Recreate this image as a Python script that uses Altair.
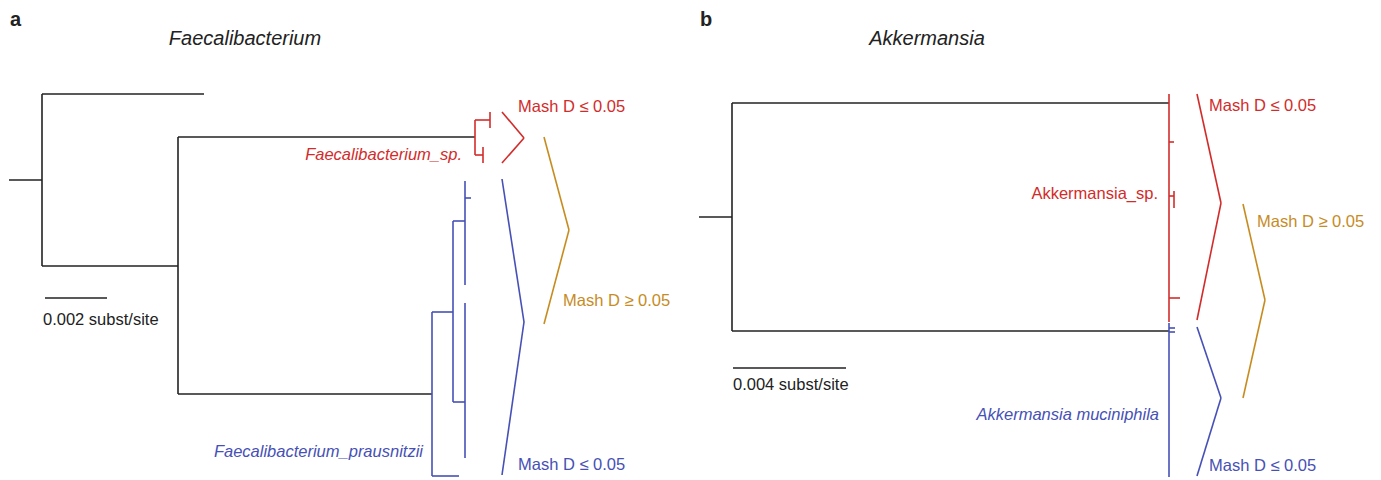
import altair as alt
import pandas as pd

# ---- colours of the groups ----
group_names = ["black", "red", "blue", "gold"]
group_colors = ["#222222", "#d22c2a", "#4650b6", "#c68c1f"]

# ---- tree branches (x1, y1, x2, y2) in figure units ----
tree_a_black = [(9, 180, 42, 180), (42, 94, 42, 266), (42, 94, 204, 94),
                (42, 266, 178, 266), (178, 137, 178, 394), (178, 137, 475, 137),
                (178, 394, 432, 394)]
tree_a_red = [(475, 120, 475, 155), (475, 120, 490, 120), (490, 112, 490, 128),
              (475, 155, 483, 155), (483, 147, 483, 163)]
tree_a_blue = [(465, 181, 465, 285), (465, 198, 471, 198), (453, 221, 465, 221),
               (453, 221, 453, 402), (453, 402, 465, 402), (465, 303, 465, 458),
               (432, 312, 453, 312), (432, 312, 432, 476), (432, 476, 459, 476)]
tree_b_black = [(699, 217, 732, 217), (732, 103, 732, 331), (732, 103, 1169, 103),
                (732, 331, 1169, 331)]
tree_b_red = [(1169, 94, 1169, 322), (1169, 142, 1174, 142), (1169, 196, 1174, 196),
              (1174, 191, 1174, 208), (1169, 298, 1180, 298)]
tree_b_blue = [(1169, 323, 1169, 477), (1169, 328, 1175, 328), (1169, 332, 1175, 332)]

# scale bars (x1, y1, x2, y2)
scale_bars = [(45, 298, 107, 298), (733, 368, 846, 368)]

# ---- clade brackets: (top, tip, bottom) points ----
brackets = [
    ("red",  [(502, 112), (524, 138), (502, 163)]),
    ("blue", [(502, 179), (524, 322), (502, 475)]),
    ("gold", [(544, 137), (569, 230), (544, 324)]),
    ("red",  [(1197, 94), (1221, 203), (1197, 320)]),
    ("blue", [(1197, 327), (1221, 398), (1197, 476)]),
    ("gold", [(1243, 204), (1265, 300), (1243, 398)]),
]

# ---- labels: text, x, y, colour, align, italic, bold, size ----
label_text = ["a", "b", "Faecalibacterium", "Akkermansia",
              "Mash D \u2264 0.05", "Mash D \u2265 0.05", "Mash D \u2264 0.05",
              "Faecalibacterium_sp.", "Faecalibacterium_prausnitzii",
              "0.002 subst/site",
              "Mash D \u2264 0.05", "Mash D \u2265 0.05", "Mash D \u2264 0.05",
              "Akkermansia_sp.", "Akkermansia muciniphila", "0.004 subst/site"]
label_x = [10, 700, 245, 927, 518, 563, 518, 462, 423, 43,
           1209, 1257, 1209, 1158, 1159, 733]
label_y = [20, 20, 39, 39, 107, 301, 465, 155, 452, 320,
           106, 222, 466, 194, 415, 385]
label_color = ["black", "black", "black", "black", "red", "gold", "blue", "red", "blue",
               "black", "red", "gold", "blue", "red", "blue", "black"]
label_align = ["left", "left", "center", "center", "left", "left", "left", "right", "right",
               "left", "left", "left", "left", "right", "right", "left"]
label_italic = [False, False, True, True, False, False, False, True, True,
                False, False, False, False, False, True, False]
label_bold = [True, True, False, False, False, False, False, False, False,
              False, False, False, False, False, False, False]
label_size = [20, 20, 20, 20, 16.5, 16.5, 16.5, 16.5, 16.5, 16.5,
              16.5, 16.5, 16.5, 16.5, 16.5, 16.5]

# ---- build tables ----
rows = []
for grp, segs in [("black", tree_a_black), ("red", tree_a_red), ("blue", tree_a_blue),
                  ("black", tree_b_black), ("red", tree_b_red), ("blue", tree_b_blue),
                  ("black", scale_bars)]:
    for (x1, y1, x2, y2) in segs:
        rows.append(dict(x=x1, y=y1, x2=x2, y2=y2, g=grp))
for grp, pts in brackets:
    for i in range(len(pts) - 1):
        rows.append(dict(x=pts[i][0], y=pts[i][1], x2=pts[i + 1][0], y2=pts[i + 1][1], g=grp))
seg_df = pd.DataFrame(rows)

lab_df = pd.DataFrame(dict(text=label_text, x=label_x, y=label_y, g=label_color,
                           align=label_align, italic=label_italic, bold=label_bold,
                           size=label_size))

W, H = 1365, 471
xs = alt.Scale(domain=[8, 8 + W], nice=False, zero=False)
ys = alt.Scale(domain=[8 + H, 8], nice=False, zero=False)
cs = alt.Scale(domain=group_names, range=group_colors)

segs = alt.Chart(seg_df).mark_rule(strokeWidth=1.6).encode(
    x=alt.X("x:Q", scale=xs, axis=None),
    y=alt.Y("y:Q", scale=ys, axis=None),
    x2="x2:Q", y2="y2:Q",
    color=alt.Color("g:N", scale=cs, legend=None),
)

layers = [segs]
for (al, it, bd, sz), sub in lab_df.groupby(["align", "italic", "bold", "size"]):
    layers.append(
        alt.Chart(sub).mark_text(
            align=al, baseline="middle", font="Liberation Sans",
            fontStyle="italic" if it else "normal",
            fontWeight="bold" if bd else "normal", fontSize=float(sz),
        ).encode(
            x=alt.X("x:Q", scale=xs, axis=None),
            y=alt.Y("y:Q", scale=ys, axis=None),
            text="text:N",
            color=alt.Color("g:N", scale=cs, legend=None),
        )
    )

chart = alt.layer(*layers).properties(
    width=W, height=H, padding=0,
    autosize=alt.AutoSizeParams(type="none"),
    background="white",
).configure_view(stroke=None, strokeWidth=0)

chart.save("out.html", embed_options={"renderer": "svg", "actions": False})
